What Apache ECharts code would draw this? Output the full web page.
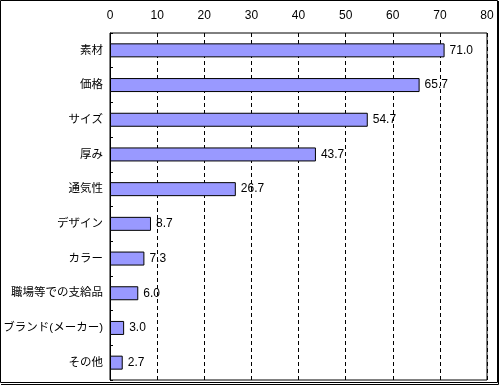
<!DOCTYPE html>
<html><head><meta charset="utf-8">
<script src="https://cdn.jsdelivr.net/npm/echarts@6/dist/echarts.min.js"></script>
<style>html,body{margin:0;padding:0;background:#fff}#c{width:500px;height:385px}</style>
</head><body><div id="c"></div>
<script>
const categories = ['素材','価格','サイズ','厚み','通気性','デザイン','カラー','職場等での支給品','ブランド(メーカー)','その他'];
const values = [71.0, 65.7, 54.7, 43.7, 26.7, 8.7, 7.3, 6.0, 3.0, 2.7];
const xTicks = {min: 0, max: 80, interval: 10};
const FONT = '"Liberation Sans", "Noto Sans CJK JP", sans-serif';
const chart = echarts.init(document.getElementById('c'), null, {renderer: 'canvas'});
chart.setOption({
  animation: false,
  backgroundColor: '#fff',
  grid: {left: 110, right: 13, top: 33, bottom: 5, containLabel: false, outerBoundsMode: 'none',
    show: true, borderColor: '#000', borderWidth: 1, backgroundColor: 'transparent'},
  xAxis: {
    type: 'value', position: 'top', min: xTicks.min, max: xTicks.max, interval: xTicks.interval,
    axisLine: {show: false}, axisTick: {show: false},
    axisLabel: {color: '#000', fontFamily: FONT, fontSize: 12, margin: 11},
    splitLine: {show: true, lineStyle: {color: '#000', type: [4, 3], width: 1}}
  },
  yAxis: {
    type: 'category', data: categories, inverse: true,
    axisLine: {show: true, lineStyle: {color: '#000', width: 1}},
    axisTick: {show: true, inside: true, length: 3, lineStyle: {color: '#000'}},
    axisLabel: {color: '#000', fontFamily: FONT, fontSize: 11.5, margin: 7}
  },
  series: [{
    type: 'bar', data: values, barWidth: 14,
    itemStyle: {color: '#9999FF', borderColor: '#000', borderWidth: 1},
    label: {show: true, position: 'right', distance: 5, color: '#000', fontFamily: FONT, fontSize: 12,
      formatter: p => p.value.toFixed(1)}
  }],
  graphic: [
    {type: 'rect', shape: {x: 0.5, y: 0.5, width: 497, height: 382}, style: {fill: 'none', stroke: '#000', lineWidth: 1}},
    {type: 'polyline', shape: {points: [[498.5, 1], [498.5, 384.5], [1, 384.5]]}, style: {fill: 'none', stroke: '#000', lineWidth: 1}}
  ]
});
</script></body></html>
